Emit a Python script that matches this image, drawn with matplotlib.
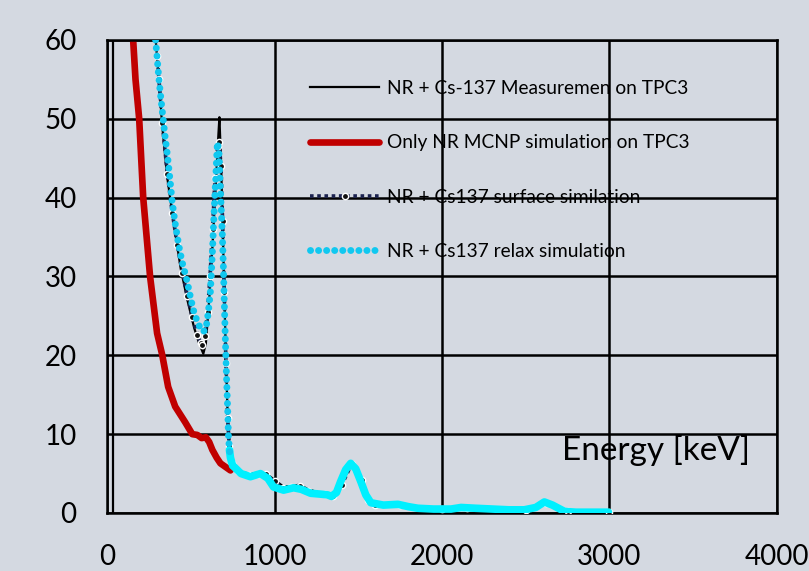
import matplotlib
matplotlib.use("Agg")
import matplotlib.pyplot as plt
import numpy as np

# ---- data ----
meas_e = [287, 300, 330, 360, 400, 440, 480, 520, 550, 575, 590, 610, 630, 650, 665, 671, 680,
          690, 700, 710, 720, 730, 745, 770, 800, 850, 900, 950, 1000, 1050, 1100, 1150, 1200,
          1250, 1300, 1350, 1400, 1430, 1460, 1490, 1520, 1560, 1600, 1700, 1750, 1800, 1900,
          2000, 2100, 2200, 2300, 2400, 2500, 2560, 2620, 2680, 2750, 2850, 3000]
meas_v = [61, 57.5, 49, 42.5, 36.5, 31, 27, 23.5, 21.5, 20.2, 21.5, 27, 34, 42, 48, 50.2, 45,
          37, 28, 19.5, 12.5, 8.5, 6.5, 5.6, 5.2, 5.0, 5.1, 5.0, 4.2, 3.4, 3.4, 3.6, 3.0,
          2.7, 2.4, 2.2, 3.8, 5.0, 6.1, 4.8, 3.0, 1.6, 1.1, 1.1, 1.1, 0.9, 0.6,
          0.5, 0.6, 0.6, 0.5, 0.4, 0.4, 0.8, 1.3, 0.8, 0.2, 0.1, 0.1]

nr_e = [156, 170, 192, 216, 257, 299, 329, 365, 407, 467, 509, 539, 565, 590, 610, 629, 655,
        677, 737]
nr_v = [60, 55, 50, 40, 30, 22.8, 20.1, 16, 13.5, 11.5, 10, 9.9, 9.5, 9.6, 9.0, 8, 7,
        6.3, 5.4]

surf_e = [287, 300, 310, 330, 360, 390, 420, 450, 480, 510, 540, 560, 570, 585, 600, 615, 630,
          645, 660, 670, 680, 690, 700, 710, 720, 730, 745, 780, 850, 900, 950, 1000, 1050,
          1100, 1150, 1200, 1300, 1350, 1400, 1460, 1520, 1560, 1600, 1750, 2000, 2150, 2500,
          2620, 2750, 3000]
surf_v = [61, 58, 55, 49.5, 43, 38, 34, 30.5, 27.5, 24.8, 22.6, 21.5, 21.3, 22.5, 25.5, 30, 36,
          42.5, 46.5, 47, 44, 37, 28, 19, 12, 8.5, 6.4, 5.3, 4.8, 4.9, 4.9, 4.0, 3.2,
          3.3, 3.4, 2.8, 2.4, 2.2, 3.5, 6.2, 4.2, 1.6, 1.0, 1.0, 0.5, 0.6, 0.4,
          1.3, 0.2, 0.1]

relax_e = [290, 300, 310, 322, 335, 348, 360, 375, 389, 405, 420, 435, 450, 465, 479, 497, 515,
           530, 545, 560, 575, 590, 605, 617, 629, 640, 650, 659, 668, 677, 689, 695, 701,
           707, 713, 719, 725, 731, 737, 750, 766, 800, 856, 916, 960, 994, 1054, 1114, 1160,
           1216, 1270, 1317, 1340, 1370, 1395, 1425, 1455, 1485, 1515, 1545, 1575, 1650, 1737,
           1800, 1856, 1950, 2054, 2114, 2200, 2300, 2400, 2491, 2560, 2611, 2660, 2731, 2800,
           2900, 2994]
relax_v = [60, 57.5, 55, 52.5, 50, 47.5, 45.5, 42.5, 39.5, 37, 35, 33.2, 31.7, 30.5, 29.3, 27.5,
           25.8, 24.8, 24, 23.3, 23, 23.3, 25.5, 28, 33, 38.5, 43, 47, 46, 41, 35, 31,
           26, 21.6, 17.5, 14, 9.8, 8, 7.0, 6.0, 5.7, 5.0, 4.6, 5.0, 4.4, 3.3, 2.9, 3.2, 3.0,
           2.5, 2.4, 2.3, 2.1, 2.6, 4.0, 5.5, 6.3, 5.6, 4.0, 2.3, 1.3, 1.0, 1.1,
           0.8, 0.6, 0.5, 0.5, 0.7, 0.6, 0.5, 0.4, 0.4, 0.7, 1.4, 1.0, 0.2, 0.1,
           0.1, 0.1]

labels = ["NR + Cs-137 Measuremen on TPC3",
          "Only NR MCNP simulation on TPC3",
          "NR + Cs137 surface similation",
          "NR + Cs137 relax simulation"]

plt.rcParams["font.family"] = ["Lato", "DejaVu Sans"]

fig = plt.figure(figsize=(8.09, 5.71), dpi=100, facecolor="#d4d9e1")
ax = fig.add_axes([0.1323, 0.1016, 0.8281, 0.8284])
ax.set_facecolor("none")

ax.set_xlim(0, 4000)
ax.set_ylim(0, 60)
ax.set_xticks([0, 1000, 2000, 3000, 4000])
ax.set_yticks([0, 10, 20, 30, 40, 50, 60])
ax.tick_params(length=0, labelsize=20, pad=22)
ax.grid(True, color="black", lw=1.8)
ax.set_axisbelow(True)
for s in ax.spines.values():
    s.set_linewidth(1.8)
ax.axvline(36, color="black", lw=1.6, zorder=1)

re = np.array(relax_e)
rv = np.array(relax_v)

l1, = ax.plot(meas_e, meas_v, color="black", lw=1.6, zorder=3)
l2, = ax.plot(nr_e, nr_v, color="#c00000", lw=4.8, solid_capstyle="round", zorder=2)
l3, = ax.plot(surf_e, surf_v, color="#1c2350", lw=2.6, ls=(0, (1, 1)),
              marker="o", ms=4.5, mfc="#111111", mec="white", mew=1.0, zorder=4)
ax.plot(re[re >= 730], rv[re >= 730], color="#00f0ff", lw=5.5, solid_capstyle="round", zorder=5)
l4, = ax.plot(re[re <= 740], rv[re <= 740], color="#10c8f0", lw=5,
              ls=(0, (0.01, 1.15)), dash_capstyle="round", zorder=5)

leg = ax.legend([l1, l2, l3, l4], labels, loc="upper left",
                bbox_to_anchor=(310 / 809, 1 - 80 / 571), bbox_transform=fig.transFigure,
                frameon=False, fontsize=13.8, handlelength=3.6, handletextpad=0.4,
                labelspacing=1.95, borderpad=0, borderaxespad=0)

fig.text(562 / 809, 1 - 450 / 571, "Energy [keV]", fontsize=24, ha="left", va="center")

fig.savefig("out.png", dpi=100, facecolor=fig.get_facecolor())
